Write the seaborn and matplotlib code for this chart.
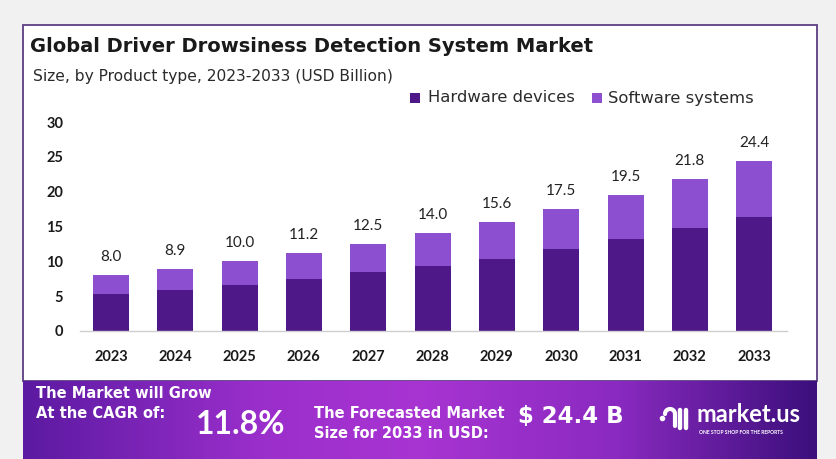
import numpy as np
import pandas as pd
import matplotlib
matplotlib.use("Agg")
import matplotlib.pyplot as plt
from matplotlib.patches import Rectangle
from matplotlib.lines import Line2D
from matplotlib.colors import LinearSegmentedColormap
import seaborn as sns

years = ["2023", "2024", "2025", "2026", "2027", "2028", "2029", "2030", "2031", "2032", "2033"]
totals = [8.0, 8.9, 10.0, 11.2, 12.5, 14.0, 15.6, 17.5, 19.5, 21.8, 24.4]
hardware = [5.3, 5.9, 6.6, 7.4, 8.4, 9.3, 10.4, 11.8, 13.2, 14.8, 16.4]
software = [round(t - h, 1) for t, h in zip(totals, hardware)]
series_names = ["Hardware devices", "Software systems"]
y_ticks = [0, 5, 10, 15, 20, 25, 30]

HW_COLOR = "#4e1888"
SW_COLOR = "#8b4fcf"

sns.set_theme(style="white")
plt.rcParams["font.family"] = ["Lato", "DejaVu Sans"]
WIDE = ["DejaVu Sans"]

W, H = 836, 459
fig = plt.figure(figsize=(W / 100, H / 100), dpi=100)
fig.patch.set_facecolor("#f1f1f1")

def fx(px):
    return px / W

def fy(py):
    return 1 - py / H

# white panel with purple border
fig.add_artist(Rectangle((fx(23), fy(381)), fx(817) - fx(23), fy(25) - fy(381),
                         transform=fig.transFigure, facecolor="white",
                         edgecolor="#5b3f82", linewidth=1.3, zorder=0))

# bottom banner gradient
bax = fig.add_axes([fx(23), 0, fx(817) - fx(23), fy(381)])
cmap = LinearSegmentedColormap.from_list(
    "banner", [(0.0, "#5c1aa2"), (0.3, "#9b2fcc"), (0.5, "#a834d2"),
               (0.75, "#8a2ac0"), (1.0, "#3c0f7c")])
grad = np.linspace(0, 1, 400).reshape(1, -1)
bax.imshow(grad, aspect="auto", cmap=cmap, extent=[0, 1, 0, 1])
bax.set_axis_off()

# main chart axes
ax = fig.add_axes([fx(80), fy(331), fx(787) - fx(80), fy(122) - fy(331)])
df = pd.DataFrame({"year": years, "total": totals, "hardware": hardware, "software": software})
sns.barplot(data=df, x="year", y="total", color=SW_COLOR, width=0.56,
            saturation=1, ax=ax, linewidth=0, edgecolor="none")
sns.barplot(data=df, x="year", y="hardware", color=HW_COLOR, width=0.56,
            saturation=1, ax=ax, linewidth=0, edgecolor="none")
ax.bar_label(ax.containers[0], labels=[f"{v:.1f}" for v in totals], padding=8,
             fontsize=11, color="#222222")

ax.set_ylim(0, 30)
ax.set_xlim(-0.48, 10.51)
ax.set_yticks(y_ticks)
ax.set_yticklabels([str(t) for t in y_ticks], fontsize=10.5, fontweight="bold", color="#1a1a1a")
ax.set_xticks(range(len(years)))
ax.set_xticklabels(years, fontsize=10.5, fontweight="bold", color="#1a1a1a")
ax.tick_params(axis="y", length=0, pad=12)
ax.tick_params(axis="x", length=0, pad=14)
ax.set_xlabel("")
ax.set_ylabel("")
for s in ["top", "right", "left"]:
    ax.spines[s].set_visible(False)
ax.spines["bottom"].set_color("#cfcfcf")
ax.spines["bottom"].set_linewidth(1.0)
ax.set_facecolor("none")
ax.grid(False)
if ax.get_legend():
    ax.get_legend().remove()

# title & subtitle
fig.text(fx(30), fy(47), "Global Driver Drowsiness Detection System Market",
         fontsize=14, fontweight="bold", color="#1a1a1a", va="center", ha="left", family=WIDE)
fig.text(fx(33), fy(76), "Size, by Product type, 2023-2033 (USD Billion)",
         fontsize=11.2, color="#2a2a2a", va="center", ha="left", family=WIDE)

# legend
for (sx, tx, name, col) in [(410, 428, series_names[0], HW_COLOR), (592, 608, series_names[1], SW_COLOR)]:
    fig.add_artist(Rectangle((fx(sx), fy(103)), fx(10), 10 / H, transform=fig.transFigure,
                             facecolor=col, edgecolor="none"))
    fig.text(fx(tx), fy(98), name, fontsize=11.8, color="#2a2a2a", va="center", ha="left", family=WIDE)

# banner text
fig.text(fx(36), fy(393), "The Market will Grow", fontsize=10.5, fontweight="bold",
         color="white", va="center", ha="left", family=WIDE)
fig.text(fx(36), fy(413), "At the CAGR of:", fontsize=10.5, fontweight="bold",
         color="white", va="center", ha="left", family=WIDE)
fig.text(fx(196), fy(424), "11.8%", fontsize=23, fontweight="bold",
         color="white", va="center", ha="left")
fig.text(fx(314), fy(413), "The Forecasted Market", fontsize=10.5, fontweight="bold",
         color="white", va="center", ha="left", family=WIDE)
fig.text(fx(314), fy(433), "Size for 2033 in USD:", fontsize=10.5, fontweight="bold",
         color="white", va="center", ha="left", family=WIDE)
fig.text(fx(518), fy(416), "$ 24.4 B", fontsize=16.5, fontweight="bold",
         color="white", va="center", ha="left", family=WIDE)

# logo
fig.text(fx(697), fy(414), "market.us", fontsize=17, fontweight="bold",
         color="white", va="center", ha="left")
fig.text(fx(699), fy(432), "ONE STOP SHOP FOR THE REPORTS", fontsize=3.6, fontweight="bold",
         color="white", va="center", ha="left")
for x0 in [680, 686]:
    fig.add_artist(Line2D([fx(x0), fx(x0)], [fy(428), fy(410)], transform=fig.transFigure,
                          color="white", linewidth=3.2, solid_capstyle="round"))
theta = np.linspace(0, np.pi, 30)
fig.add_artist(Line2D(fx(670) + np.cos(theta) * fx(5), fy(414) + np.sin(theta) * (5 / H),
                      transform=fig.transFigure, color="white", linewidth=3))
fig.add_artist(Line2D([fx(675), fx(675)], [fy(414), fy(426)], transform=fig.transFigure,
                      color="white", linewidth=3, solid_capstyle="round"))
fig.add_artist(Line2D([fx(662)], [fy(418)], transform=fig.transFigure, marker="o",
                      markersize=3, color="white", linestyle="none"))

fig.savefig("out.png", dpi=100, facecolor=fig.get_facecolor())
